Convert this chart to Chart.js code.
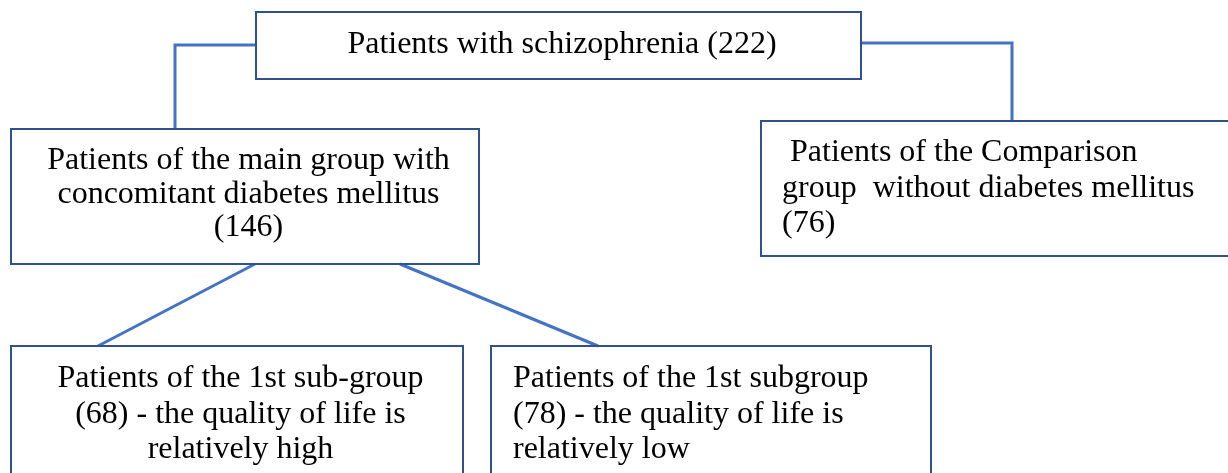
<!DOCTYPE html>
<html>
<head>
<meta charset="utf-8">
<script src="https://cdn.jsdelivr.net/npm/chart.js@4.4.1/dist/chart.umd.min.js"></script>
<style>
  html, body { margin: 0; padding: 0; background: #fff; }
  #chart { display: block; }
</style>
</head>
<body>
<canvas id="chart" width="1228" height="473"></canvas>
<script>
// group names and patient counts
const nodeCounts = [222, 146, 76, 68, 78];
const nodeText = [
  ["Patients with schizophrenia ({n})"],
  ["Patients of the main group with", "concomitant diabetes mellitus", "({n})"],
  [" Patients of the Comparison", "group  without diabetes mellitus", "({n})"],
  ["Patients of the 1st sub-group", "({n}) - the quality of life is", "relatively high"],
  ["Patients of the 1st subgroup", "({n}) - the quality of life is", "relatively low"],
];

// diagram layout (page units, y down)
const boxes = [
  { x0: 256, y0: 12, x1: 861, y1: 79, align: "center", base: 53, gap: 34 },
  { x0: 11, y0: 129, x1: 479, y1: 264, align: "center", base: 169, gap: 33.5 },
  { x0: 761, y0: 121, x1: 1250, y1: 256, align: "left", tx: 782, base: 161, gap: 35.5 },
  { x0: 11, y0: 346, x1: 463, y1: 500, align: "center", base: 387, gap: 35.5 },
  { x0: 491, y0: 346, x1: 931, y1: 500, align: "left", tx: 513, base: 387, gap: 35.5 },
];
const links = [
  [[256, 45], [175, 45], [175, 129]],
  [[861, 43], [1012, 43], [1012, 121]],
  [[255, 264], [98, 346]],
  [[400, 264], [598, 346]],
];

const linkSets = links.map(pts => ({
  data: pts.map(p => ({ x: p[0], y: p[1] })),
  showLine: true,
  borderColor: "#4472C4",
  borderWidth: 3,
  pointRadius: 0,
  order: 2,
}));

const boxSets = boxes.map(b => ({
  data: [
    { x: b.x0, y: b.y0 }, { x: b.x1, y: b.y0 },
    { x: b.x1, y: b.y1 }, { x: b.x0, y: b.y1 },
    { x: b.x0, y: b.y0 }, { x: b.x1, y: b.y0 },
  ],
  showLine: true,
  borderColor: "#2F528F",
  borderWidth: 2,
  borderJoinStyle: "miter",
  pointRadius: 0,
  order: 1,
}));

const boxText = {
  id: "boxText",
  afterDatasetsDraw(chart) {
    const { ctx, scales: { x, y } } = chart;
    ctx.save();
    ctx.fillStyle = "#000";
    ctx.font = "32px 'Liberation Serif', 'Times New Roman', serif";
    ctx.textBaseline = "alphabetic";
    boxes.forEach((b, i) => {
      const lines = nodeText[i].map(s => s.replace("{n}", nodeCounts[i]));
      let px;
      if (b.align === "center") {
        ctx.textAlign = "center";
        px = x.getPixelForValue((b.x0 + b.x1) / 2 + 3.5);
      } else {
        ctx.textAlign = "left";
        px = x.getPixelForValue(b.tx);
      }
      lines.forEach((s, k) => {
        ctx.fillText(s, px, y.getPixelForValue(b.base + k * b.gap));
      });
    });
    ctx.restore();
  }
};

new Chart(document.getElementById("chart"), {
  type: "scatter",
  data: { datasets: [...linkSets, ...boxSets] },
  options: {
    responsive: false,
    animation: false,
    devicePixelRatio: 1,
    layout: { padding: 0 },
    plugins: { legend: { display: false }, tooltip: { enabled: false } },
    scales: {
      x: { type: "linear", min: 0, max: 1228, display: false },
      y: { type: "linear", min: 0, max: 473, reverse: true, display: false },
    },
  },
  plugins: [boxText],
});
</script>
</body>
</html>
